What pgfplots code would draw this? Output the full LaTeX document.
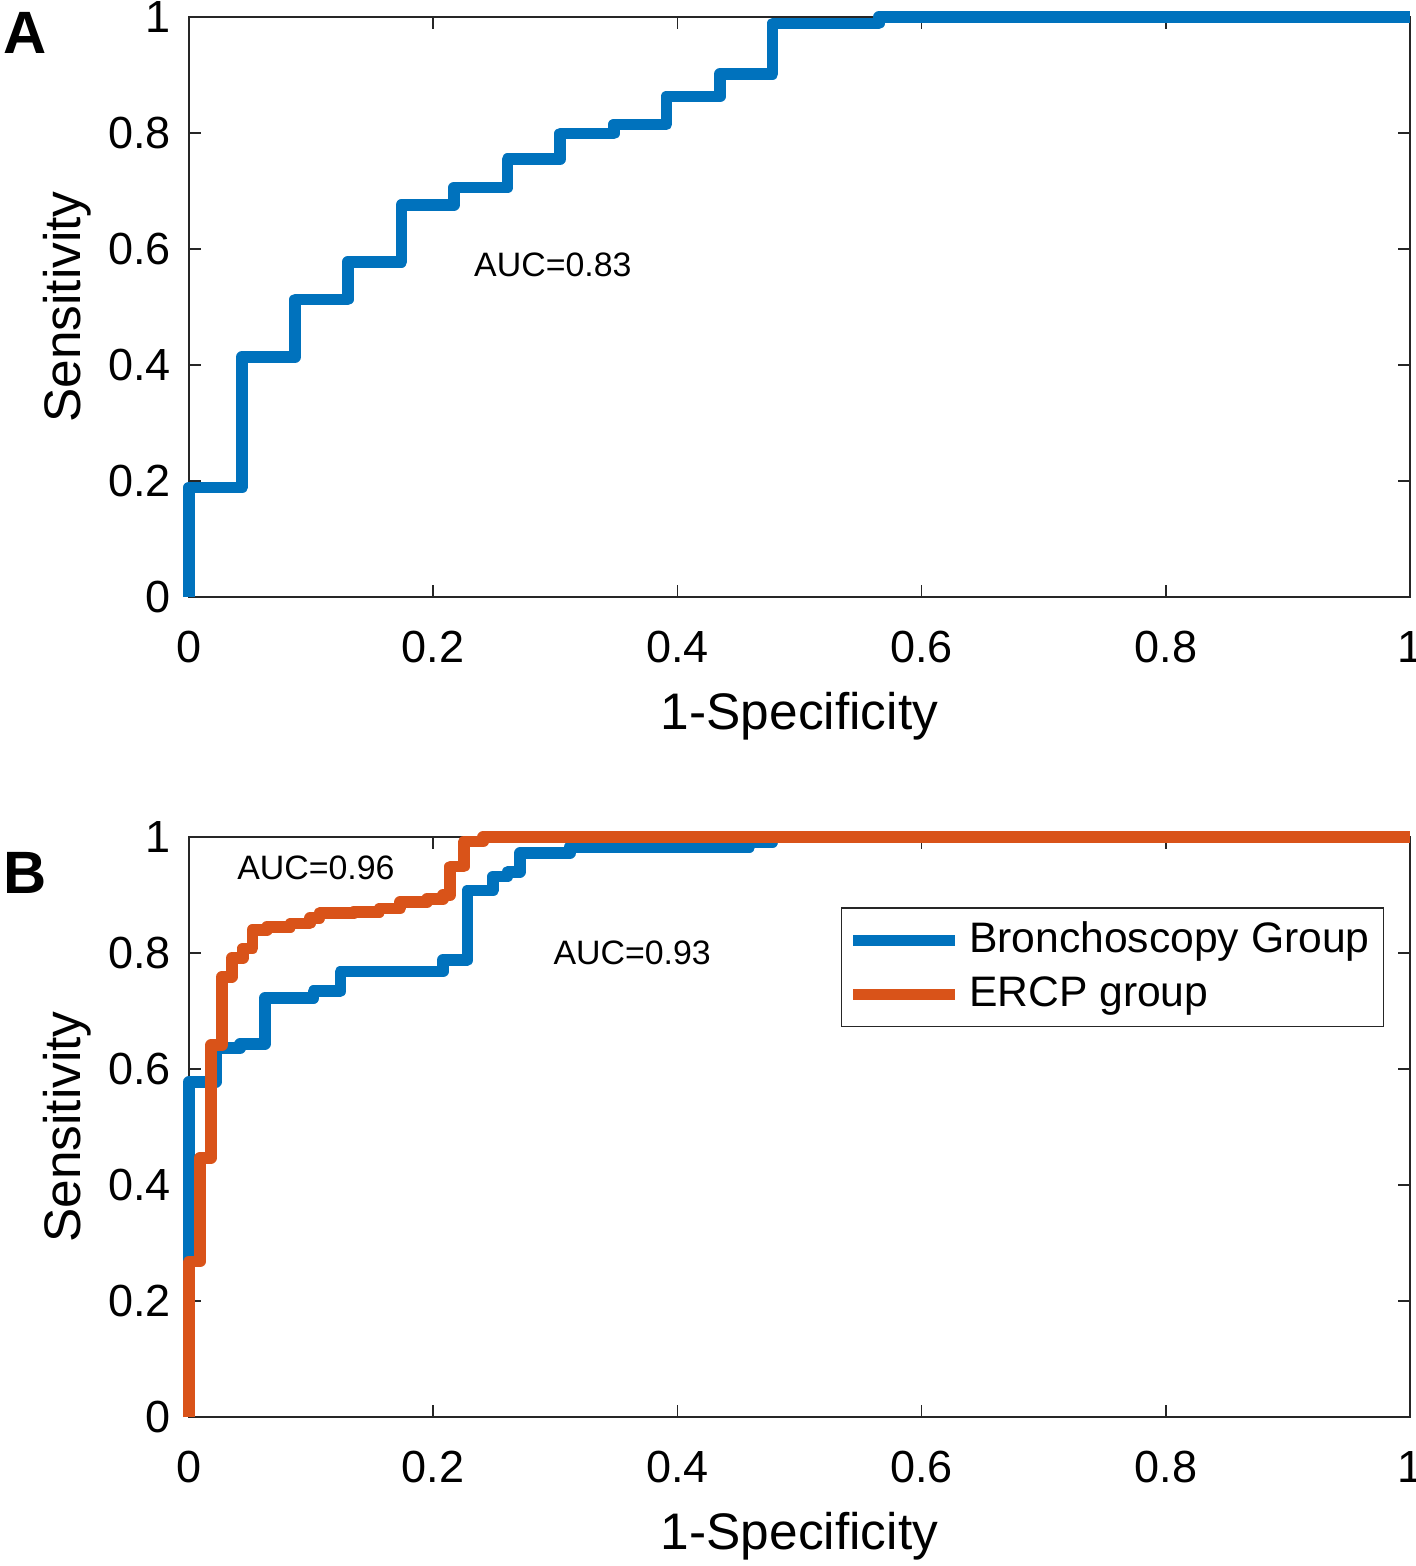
\documentclass[border=0pt]{standalone}
\usepackage{fontspec}
\setmainfont{Liberation Sans}
\usepackage{pgfplots}
\pgfplotsset{compat=1.18}
\definecolor{mblue}{HTML}{0072BD}
\definecolor{morange}{HTML}{D95319}
\definecolor{axgray}{HTML}{262626}
\pgfplotsset{
  rocaxis/.style={
    scale only axis, width=305.25bp, height=145bp,
    xmin=0, xmax=1, ymin=0, ymax=1,
    xtick={0,0.2,0.4,0.6,0.8,1}, ytick={0,0.2,0.4,0.6,0.8,1},
    xticklabels={0,0.2,0.4,0.6,0.8,1}, yticklabels={0,0.2,0.4,0.6,0.8,1},
    tick align=inside, major tick length=3bp,
    tick style={axgray, line width=0.4bp},
    axis line style={axgray, line width=0.45bp},
    ticklabel style={font=\fontsize{11.3}{13}\selectfont, text=black},
    xticklabel style={yshift=-5bp},
    yticklabel style={xshift=-1bp},
    xlabel={1-Specificity}, ylabel={Sensitivity},
    label style={font=\fontsize{12.9}{15}\selectfont},
    xlabel style={at={(axis description cs:0.5,-0.205)}, anchor=center},
    ylabel style={at={(axis description cs:-0.1,0.5)}, anchor=center},
    clip=false,
    every axis plot/.append style={line width=2.9bp, line join=round, line cap=butt},
  }
}
\begin{document}
\begin{tikzpicture}
\useasboundingbox (0,0) rectangle (354bp,-391.5bp);
\node[font=\fontsize{15}{17}\selectfont\bfseries] at (6.25bp,-8.25bp) {A};
\node[font=\fontsize{15}{17}\selectfont\bfseries] at (6.25bp,-218.25bp) {B};
\begin{axis}[rocaxis, at={(47.25bp,-149.25bp)}, anchor=south west]
\addplot[mblue] coordinates {
(0,0) (0,0.189) (0.0435,0.189) (0.0435,0.414) (0.087,0.414) (0.087,0.513)
(0.130,0.513) (0.130,0.578) (0.174,0.578) (0.174,0.676) (0.217,0.676) (0.217,0.706)
(0.261,0.706) (0.261,0.755) (0.304,0.755) (0.304,0.799) (0.348,0.799) (0.348,0.815)
(0.391,0.815) (0.391,0.863) (0.435,0.863) (0.435,0.902) (0.478,0.902) (0.478,0.989)
(0.565,0.989) (0.565,1) (1,1)};
\node[font=\fontsize{8.5}{10}\selectfont] at (axis cs:0.298,0.572) {AUC=0.83};
\end{axis}
\begin{axis}[rocaxis, at={(47.25bp,-354.25bp)}, anchor=south west,
  legend style={at={(axis description cs:0.979,0.879)}, anchor=north east,
    draw=axgray, line width=0.4bp, font=\fontsize{10.7}{12}\selectfont,
    inner xsep=1.5bp, inner ysep=1.5bp, row sep=0.5bp, cells={anchor=west}},
  legend image code/.code={\draw[#1] (0bp,0bp) -- (25.5bp,0bp);}]
\addplot[mblue] coordinates {
(0,0) (0,0.578) (0.022,0.578) (0.022,0.636) (0.042,0.636) (0.042,0.643)
(0.062,0.643) (0.062,0.722) (0.102,0.722) (0.102,0.734) (0.124,0.734) (0.124,0.768)
(0.208,0.768) (0.208,0.788) (0.228,0.788) (0.228,0.908) (0.249,0.908) (0.249,0.932)
(0.261,0.932) (0.261,0.940) (0.271,0.940) (0.271,0.972) (0.312,0.972) (0.312,0.983)
(0.459,0.983) (0.459,0.991) (0.478,0.991) (0.478,1) (1,1)};
\addlegendentry{Bronchoscopy Group}
\addplot[morange] coordinates {
(0,0) (0,0.268) (0.009,0.268) (0.009,0.447) (0.018,0.447) (0.018,0.641)
(0.027,0.641) (0.027,0.759) (0.035,0.759) (0.035,0.791) (0.044,0.791) (0.044,0.808)
(0.052,0.808) (0.052,0.840) (0.064,0.840) (0.064,0.845) (0.083,0.845) (0.083,0.851)
(0.099,0.851) (0.099,0.860) (0.107,0.860) (0.107,0.869) (0.135,0.869) (0.135,0.871)
(0.156,0.871) (0.156,0.877) (0.173,0.877) (0.173,0.888) (0.195,0.888) (0.195,0.893)
(0.208,0.893) (0.208,0.900) (0.214,0.900) (0.214,0.949) (0.225,0.949) (0.225,0.992)
(0.241,0.992) (0.241,1) (1,1)};
\addlegendentry{ERCP group}
\node[font=\fontsize{8.5}{10}\selectfont] at (axis cs:0.104,0.947) {AUC=0.96};
\node[font=\fontsize{8.5}{10}\selectfont] at (axis cs:0.363,0.80) {AUC=0.93};
\end{axis}
\end{tikzpicture}
\end{document}
